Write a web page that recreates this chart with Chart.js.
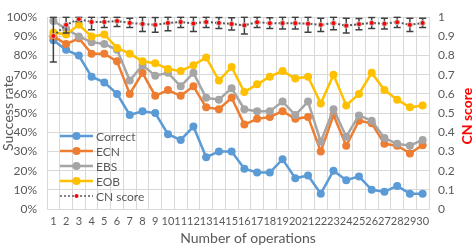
<!DOCTYPE html>
<html>
<head>
<meta charset="utf-8">
<script src="https://cdn.jsdelivr.net/npm/chart.js@4"></script>
<style>
  html, body { margin: 0; padding: 0; background: #fff; }
  #wrap { width: 473px; height: 245px; position: relative; }
</style>
</head>
<body>
<div id="wrap"><canvas id="opsChart"></canvas></div>
<script>
/* data */
const operations = Array.from({ length: 30 }, (_, i) => String(i + 1));

const correctRate = [88, 83, 80, 69, 66, 60, 49, 51, 50, 39, 36, 43, 27, 30, 30, 21, 19, 19, 26, 16, 17.5, 8, 20, 15, 17, 10, 9, 12, 8, 8];
const ecnRate = [90, 86, 89, 81, 81, 77, 60, 71, 59, 62, 59, 64, 53, 52, 58, 44, 47, 48, 51, 47, 48, 30, 49, 33, 46, 44.7, 34, 33, 29, 33.3];
const ebsRate = [98, 94, 90, 87, 86, 83, 67, 75, 69.5, 71, 64, 71, 58, 57, 63, 52, 51, 51, 56, 49, 56, 35, 52, 37.7, 48.8, 46, 37, 34, 33, 36];
const eobRate = [92, 91, 96, 90, 91, 84, 81, 77, 76, 73, 72, 75, 79, 67, 74, 61, 65, 69, 72, 68, 69, 55, 70, 54, 60, 71, 62, 57, 53, 54];

const cnScore = [0.902, 0.96, 0.99, 0.975, 0.975, 0.98, 0.97, 0.965, 0.96, 0.97, 0.975, 0.967, 0.975, 0.97, 0.965, 0.958, 0.974, 0.969, 0.969, 0.969, 0.966, 0.96, 0.969, 0.956, 0.964, 0.97, 0.966, 0.974, 0.96, 0.97];
const cnError = [0.135, 0.042, 0.012, 0.04, 0.029, 0.029, 0.024, 0.04, 0.038, 0.04, 0.029, 0.042, 0.029, 0.029, 0.032, 0.046, 0.028, 0.028, 0.031, 0.031, 0.044, 0.035, 0.034, 0.038, 0.029, 0.029, 0.028, 0.028, 0.035, 0.024];

const textColor = "#595959";
const gridColor = "#D9D9D9";
const fontFamily = "Lato, 'Open Sans', sans-serif";

function lineSeries(label, data, color, order) {
  return {
    label,
    data,
    yAxisID: "y",
    borderColor: color,
    backgroundColor: color,
    borderWidth: 2.5,
    pointRadius: 4,
    pointBorderWidth: 0,
    pointBackgroundColor: color,
    tension: 0,
    order
  };
}

/* error bars for CN score, drawn under its line */
const errorBarPlugin = {
  id: "errorBars",
  beforeDatasetDraw(chart, args) {
    const ds = chart.data.datasets[args.index];
    if (!ds.errors) return;
    const ctx = chart.ctx;
    const xScale = chart.scales.x;
    const yScale = chart.scales[ds.yAxisID];
    const area = chart.chartArea;
    ctx.save();
    ctx.beginPath();
    ctx.rect(area.left, area.top - 1, area.right - area.left, area.bottom - area.top + 1);
    ctx.clip();
    ctx.strokeStyle = "#404040";
    ctx.lineWidth = 1.5;
    ds.data.forEach((v, i) => {
      const x = xScale.getPixelForValue(i);
      const top = yScale.getPixelForValue(Math.min(1, v + ds.errors[i]));
      const bottom = yScale.getPixelForValue(v - ds.errors[i]);
      ctx.beginPath();
      ctx.moveTo(x, top);
      ctx.lineTo(x, bottom);
      ctx.moveTo(x - 3.5, top);
      ctx.lineTo(x + 3.5, top);
      ctx.moveTo(x - 3.5, bottom);
      ctx.lineTo(x + 3.5, bottom);
      ctx.stroke();
    });
    ctx.restore();
  }
};

/* legend inside the plot + axis titles */
const decorPlugin = {
  id: "decor",
  afterDraw(chart) {
    const ctx = chart.ctx;
    const area = chart.chartArea;
    ctx.save();

    const entries = chart.data.datasets
      .slice()
      .sort((a, b) => b.order - a.order);
    const startY = 136;
    const stepY = 15;
    entries.forEach((ds, i) => {
      const y = startY + i * stepY;
      ctx.strokeStyle = ds.borderColor;
      ctx.lineWidth = ds.borderDash ? 1.5 : 2.5;
      ctx.setLineDash(ds.borderDash || []);
      ctx.beginPath();
      ctx.moveTo(60, y);
      ctx.lineTo(93, y);
      ctx.stroke();
      ctx.setLineDash([]);
      ctx.beginPath();
      ctx.arc(76.5, y, ds.borderDash ? 2 : 4, 0, Math.PI * 2);
      ctx.fillStyle = ds.pointBackgroundColor;
      ctx.fill();
      ctx.fillStyle = textColor;
      ctx.font = "12px " + fontFamily;
      ctx.textAlign = "left";
      ctx.textBaseline = "middle";
      ctx.fillText(ds.label, 96, y + 1);
    });

    ctx.fillStyle = textColor;
    ctx.font = "14px " + fontFamily;
    ctx.textAlign = "center";
    ctx.textBaseline = "middle";
    ctx.fillText("Number of operations", (area.left + area.right) / 2 + 10, 238);

    ctx.save();
    ctx.translate(8, (area.top + area.bottom) / 2);
    ctx.rotate(-Math.PI / 2);
    ctx.fillText("Success rate", 0, 0);
    ctx.restore();

    ctx.save();
    ctx.translate(467, (area.top + area.bottom) / 2 + 3);
    ctx.rotate(-Math.PI / 2);
    ctx.fillStyle = "#FF0000";
    ctx.font = "bold 14px " + fontFamily;
    ctx.fillText("CN score", 0, 0);
    ctx.restore();

    ctx.restore();
  }
};

const opsChart = new Chart(document.querySelector("#opsChart"), {
  type: "line",
  data: {
    labels: operations,
    datasets: [
      lineSeries("Correct", correctRate, "#5B9BD5", 5),
      lineSeries("ECN", ecnRate, "#ED7D31", 4),
      lineSeries("EBS", ebsRate, "#A5A5A5", 3),
      lineSeries("EOB", eobRate, "#FFC000", 2),
      {
        label: "CN score",
        data: cnScore,
        errors: cnError,
        yAxisID: "y1",
        borderColor: "#595959",
        borderWidth: 2,
        borderDash: [2, 2],
        pointRadius: 2.5,
        pointBorderWidth: 1,
        pointBorderColor: "#BFBFBF",
        pointBackgroundColor: "#FF0000",
        tension: 0,
        order: 1
      }
    ]
  },
  options: {
    responsive: true,
    maintainAspectRatio: false,
    animation: false,
    layout: { padding: { top: 4, left: 0, right: 0, bottom: 0 } },
    plugins: {
      legend: { display: false },
      tooltip: { enabled: false }
    },
    scales: {
      x: {
        offset: true,
        grid: { offset: true, color: gridColor, drawTicks: false },
        border: { color: gridColor },
        ticks: {
          autoSkip: false,
          maxRotation: 0,
          padding: 6,
          color: textColor,
          font: { family: fontFamily, size: 11 }
        },
        afterFit(scale) { scale.height = 36; }
      },
      y: {
        position: "left",
        min: 0,
        max: 100,
        grid: { color: gridColor, drawTicks: false },
        border: { display: false },
        ticks: {
          stepSize: 10,
          padding: 10,
          color: textColor,
          font: { family: fontFamily, size: 12 },
          callback: value => value + "%"
        },
        afterFit(scale) { scale.width = 47; }
      },
      y1: {
        position: "right",
        min: 0,
        max: 1,
        grid: { drawOnChartArea: false, drawTicks: false },
        border: { color: gridColor },
        ticks: {
          stepSize: 0.1,
          padding: 9,
          color: textColor,
          font: { family: fontFamily, size: 12 },
          callback: value => String(Math.round(value * 10) / 10)
        },
        afterFit(scale) { scale.width = 44; }
      }
    }
  },
  plugins: [errorBarPlugin, decorPlugin]
});
</script>
</body>
</html>
